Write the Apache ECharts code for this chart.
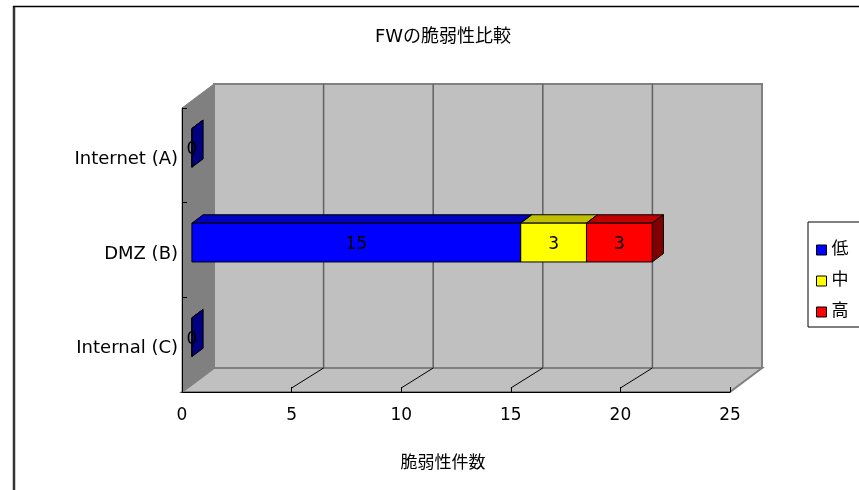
<!DOCTYPE html>
<html><head><meta charset="utf-8">
<script src="https://cdn.jsdelivr.net/npm/echarts@6/dist/echarts.min.js"></script>
<style>html,body{margin:0;padding:0;background:#fff}#c{width:859px;height:490px}</style>
</head><body><div id="c"></div>
<script>
const categories = ['Internet (A)', 'DMZ (B)', 'Internal (C)'];
const seriesNames = ['低', '中', '高'];
const lowValues = [0, 15, 0];
const midValues = [null, 3, null];
const highValues = [null, 3, null];
const xTicks = [0, 5, 10, 15, 20, 25];
const chartTitle = 'FWの脆弱性比較';
const xAxisTitle = '脆弱性件数';

const DX = 32, DY = -24;          // depth vector of the 3D box
const F0 = 0.31, F1 = 0.66;       // bar depth fractions
const BAR_FRAC = 0.41;            // bar thickness as fraction of band
const FONT = "'DejaVu Sans', 'Noto Sans CJK JP', sans-serif";
const faceColors = [
  {front:'#0000ff', top:'#0000c0', side:'#000080'},
  {front:'#ffff00', top:'#c0c000', side:'#808000'},
  {front:'#ff0000', top:'#c00000', side:'#800000'}
];

const valueSets = [lowValues, midValues, highValues];
const stacked = valueSets.map(() => []);
categories.forEach((c, i) => {
  let base = 0;
  valueSets.forEach((vals, s) => {
    const v = vals[i];
    if (v != null) { stacked[s].push([base, base + v, i, v]); base += v; }
  });
});

function barRenderer(s) {
  return function (params, api) {
    const start = api.value(0), end = api.value(1), ci = api.value(2), v = api.value(3);
    const p0 = api.coord([start, ci]), p1 = api.coord([end, ci]);
    const band = api.size([0, 1])[1];
    const hh = band * BAR_FRAC / 2;
    const ox = DX * F0, oy = DY * F0, ddx = DX * (F1 - F0), ddy = DY * (F1 - F0);
    const x0 = p0[0] + ox, x1 = p1[0] + ox, yc = p0[1] + oy, yt = yc - hh, yb = yc + hh;
    const c = faceColors[s];
    const st = {stroke: '#000', lineWidth: 1};
    return {type: 'group', children: [
      {type: 'polygon', shape: {points: [[x0, yt], [x1, yt], [x1 + ddx, yt + ddy], [x0 + ddx, yt + ddy]]}, style: Object.assign({fill: c.top}, st)},
      {type: 'polygon', shape: {points: [[x1, yt], [x1 + ddx, yt + ddy], [x1 + ddx, yb + ddy], [x1, yb]]}, style: Object.assign({fill: c.side}, st)},
      {type: 'rect', shape: {x: x0, y: yt, width: x1 - x0, height: yb - yt}, style: Object.assign({fill: c.front}, st)},
      {type: 'text', x: (x0 + x1) / 2, y: yc + 2, z2: 20, style: {text: String(v), align: 'center', verticalAlign: 'middle', fill: '#000', font: '17px ' + FONT}}
    ]};
  };
}

function wallRenderer(params, api) {
  const cs = params.coordSys;
  const x0 = cs.x, y0 = cs.y, x1 = cs.x + cs.width, y1 = cs.y + cs.height;
  const last = xTicks[xTicks.length - 1];
  const ch = [];
  ch.push({type: 'rect', shape: {x: x0 + DX, y: y0 + DY, width: cs.width, height: cs.height}, style: {fill: '#c0c0c0', stroke: '#808080', lineWidth: 2}});
  ch.push({type: 'polygon', shape: {points: [[x0, y0], [x0 + DX, y0 + DY], [x0 + DX, y1 + DY], [x0, y1]]}, style: {fill: '#808080', stroke: '#808080', lineWidth: 1}});
  ch.push({type: 'polygon', shape: {points: [[x0, y1], [x1, y1], [x1 + DX, y1 + DY], [x0 + DX, y1 + DY]]}, style: {fill: '#c0c0c0', stroke: '#808080', lineWidth: 2}});
  xTicks.forEach(t => {
    if (t <= 0 || t >= last) return;
    const x = api.coord([t, 0])[0];
    ch.push({type: 'line', shape: {x1: x + DX, y1: y0 + DY, x2: x + DX, y2: y1 + DY}, style: {stroke: '#606060', lineWidth: 1.5}});
    ch.push({type: 'line', shape: {x1: x, y1: y1 - 4, x2: x + DX, y2: y1 + DY}, style: {stroke: '#000', lineWidth: 1}});
  });
  return {type: 'group', children: ch};
}

const chart = echarts.init(document.getElementById('c'));
const series = [{
  name: 'walls', type: 'custom', silent: true, z: 1,
  data: [[0, 0]], encode: {x: 0, y: 1}, renderItem: wallRenderer
}];
seriesNames.forEach((n, s) => {
  series.push({
    name: n, type: 'custom', z: 2 + s, silent: true,
    itemStyle: {color: faceColors[s].front},
    data: stacked[s], encode: {x: [0, 1], y: 2},
    renderItem: barRenderer(s)
  });
});

chart.setOption({
  animation: false,
  backgroundColor: '#fff',
  grid: {left: 182, top: 108, width: 548, height: 284, containLabel: false},
  xAxis: {
    type: 'value', min: 0, max: 25, interval: 5, z: 10,
    axisLine: {show: true, lineStyle: {color: '#000', width: 1}},
    axisTick: {show: true, inside: true, length: 5, lineStyle: {color: '#000'}},
    splitLine: {show: false},
    axisLabel: {fontSize: 17, color: '#000', fontFamily: FONT, margin: 15, customValues: xTicks},
    name: xAxisTitle, nameLocation: 'middle', nameGap: 63,
    nameTextStyle: {fontSize: 17, color: '#000', fontFamily: FONT, padding: [0, 26, 0, 0]}
  },
  yAxis: {
    type: 'category', data: categories, inverse: true, z: 10,
    axisLine: {show: true, lineStyle: {color: '#000', width: 1}},
    axisTick: {show: true, inside: true, length: 5, lineStyle: {color: '#000'}},
    splitLine: {show: false},
    axisLabel: {
      margin: 4, formatter: '{a|{value}}',
      rich: {a: {fontSize: 18, color: '#000', fontFamily: FONT, padding: [8, 0, 0, 0]}}
    }
  },
  legend: {
    data: seriesNames, orient: 'vertical', left: 808, top: 222, icon: 'rect',
    itemWidth: 10, itemHeight: 10, itemGap: 11, padding: [18, 16, 5, 8],
    borderColor: '#000', borderWidth: 1, selectedMode: false,
    textStyle: {fontSize: 17, color: '#000', fontFamily: FONT, lineHeight: 20},
    itemStyle: {borderColor: '#000', borderWidth: 1}
  },
  graphic: [
    {type: 'line', shape: {x1: 14, y1: 6, x2: 14, y2: 490}, style: {stroke: '#333', lineWidth: 2.5}, silent: true},
    {type: 'line', shape: {x1: 13, y1: 6.5, x2: 859, y2: 6.5}, style: {stroke: '#000', lineWidth: 1.5}, silent: true},
    {type: 'text', x: 443, y: 37, style: {text: chartTitle, align: 'center', verticalAlign: 'middle', fill: '#000', font: '18px ' + FONT}}
  ],
  series: series
});
</script></body></html>
